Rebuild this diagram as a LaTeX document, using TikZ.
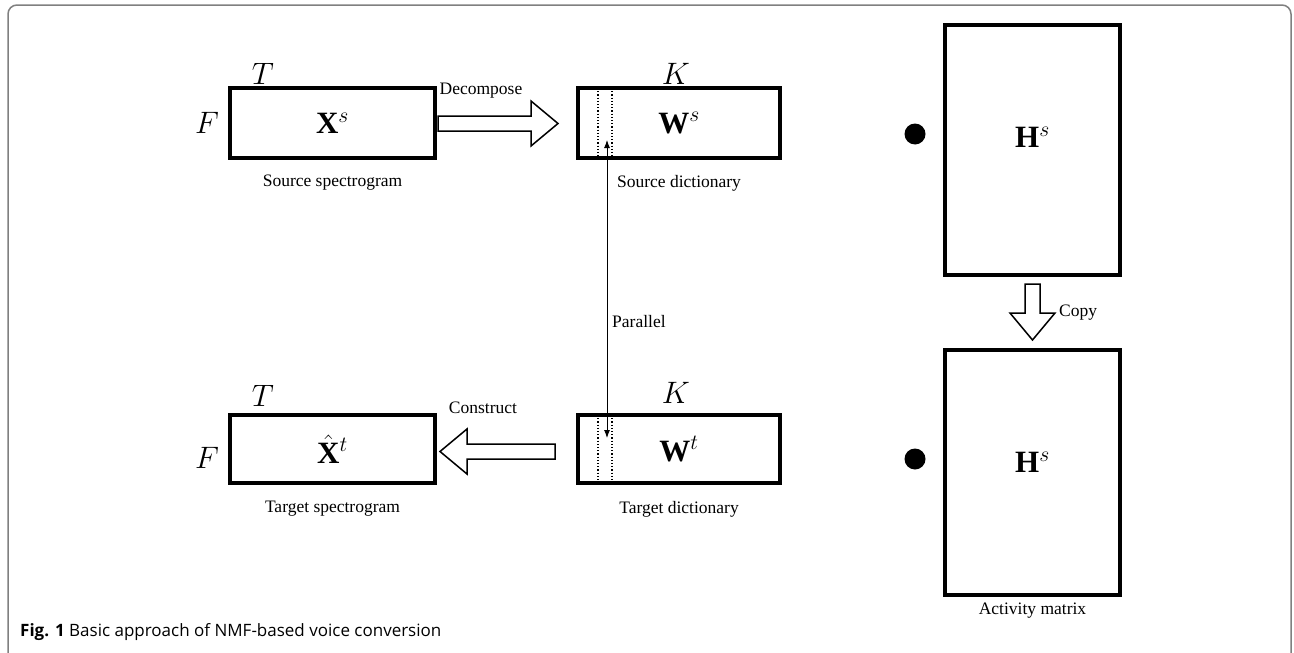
\RequirePackage{fix-cm}
\documentclass[tikz,border=0pt]{standalone}
\usepackage{fontspec}
\setmainfont{Liberation Serif}
\newfontfamily\capfont{Open Sans}
\usetikzlibrary{arrows.meta}
\begin{document}
\begin{tikzpicture}[x=1pt,y=-1pt,
  mat/.style={draw,line width=4pt,inner sep=0pt},
  lbl/.style={font=\fontsize{17.5}{21}\selectfont,inner sep=0pt},
  sym/.style={font=\fontsize{31}{36}\selectfont,inner sep=0pt},
  dim/.style={font=\fontsize{31}{36}\selectfont,inner sep=0pt},
  hollow/.style={draw,line width=1.5pt,fill=white,line join=miter},
  dot/.style={circle,fill=black,minimum size=21pt,inner sep=0pt},
  sep/.style={draw,dotted,line width=1.2pt}]
\useasboundingbox (0,0) rectangle (1294,653);
% outer frame, open at the bottom
\draw[gray,line width=1.5pt,rounded corners=9pt] (8,653) -- (8,5) -- (1291,5) -- (1291,653);

% matrices
\node[mat,minimum width=205pt,minimum height=70pt] (Xs) at (332.5,123) {};
\node[mat,minimum width=202pt,minimum height=70pt] (Ws) at (679,123) {};
\node[mat,minimum width=175pt,minimum height=250pt] (Hs) at (1032.5,150) {};
\node[mat,minimum width=175pt,minimum height=245pt] (Ht) at (1032.5,472.5) {};
\node[mat,minimum width=202pt,minimum height=68pt] (Wt) at (679,449) {};
\node[mat,minimum width=205pt,minimum height=68pt] (Xt) at (332.5,449) {};

% symbols inside
\node[sym] (xs) at (Xs) {$\mathbf{X}^s$};
\node[sym] (ws) at (Ws) {$\mathbf{W}^s$};
\node[sym] (hs) at (1032.5,137) {$\mathbf{H}^s$};
\node[sym] (ht) at (1032.5,462) {$\mathbf{H}^s$};
\node[sym] (wt) at (Wt) {$\mathbf{W}^t$};
\node[sym] (xt) at (Xt) {$\hat{\mathbf{X}}^t$};

% dimension labels
\node[dim] (T1) at (263,74) {$T$};
\node[dim] (F1) at (207,123) {$F$};
\node[dim] (K1) at (676,74) {$K$};
\node[dim] (T2) at (263,396) {$T$};
\node[dim] (F2) at (207,458) {$F$};
\node[dim] (K2) at (676,393) {$K$};

% captions under matrices
\node[lbl] (c1) at (332.5,183) {Source spectrogram};
\node[lbl] (c2) at (679,183) {Source dictionary};
\node[lbl] (c3) at (332.5,509) {Target spectrogram};
\node[lbl] (c4) at (679,509) {Target dictionary};
\node[lbl] (c5) at (1032.5,611) {Activity matrix};

% products
\node[dot] (d1) at (915,134) {};
\node[dot] (d2) at (915,459) {};

% one basis column, marked in both dictionaries
\draw[sep] (Ws.north west) ++(22,2) coordinate (a1) -- (a1 |- Ws.south);
\draw[sep] (Ws.north west) ++(36,2) coordinate (a2) -- (a2 |- Ws.south);
\draw[sep] (Wt.north west) ++(22,2) coordinate (b1) -- (b1 |- Wt.south);
\draw[sep] (Wt.north west) ++(36,2) coordinate (b2) -- (b2 |- Wt.south);
\coordinate (pt) at (607,140);
\coordinate (pb) at (607,438);
\draw[line width=0.9pt,{Latex[length=8pt,width=6pt]}-{Latex[length=8pt,width=6pt]}] (pt) -- (pb);
\node[lbl,anchor=west] (par) at (612,322) {Parallel};

% Decompose: hollow arrow to the right
\draw[hollow] (438,116) -- (531,116) -- (531,101) -- (558,123.5) -- (531,146) -- (531,131) -- (438,131) -- cycle;
\node[lbl] (dec) at (481,91) {Decompose};

% Construct: hollow arrow to the left
\draw[hollow] (555,444) -- (467,444) -- (467,429) -- (440,451.5) -- (467,474) -- (467,459) -- (555,459) -- cycle;
\node[lbl] (con) at (483,408) {Construct};

% Copy: hollow arrow downwards
\draw[hollow] (1025,284) -- (1025,313) -- (1010,313) -- (1032.5,340) -- (1055,313) -- (1040,313) -- (1040,284) -- cycle;
\node[lbl,anchor=west] (cpy) at (1059,313) {Copy};

% figure caption
\node[anchor=base west,inner sep=0pt,font=\capfont\fontsize{17}{20}\selectfont] (cap) at (20,636)
  {\textbf{Fig. 1} Basic approach of NMF-based voice conversion};
\end{tikzpicture}
\end{document}
